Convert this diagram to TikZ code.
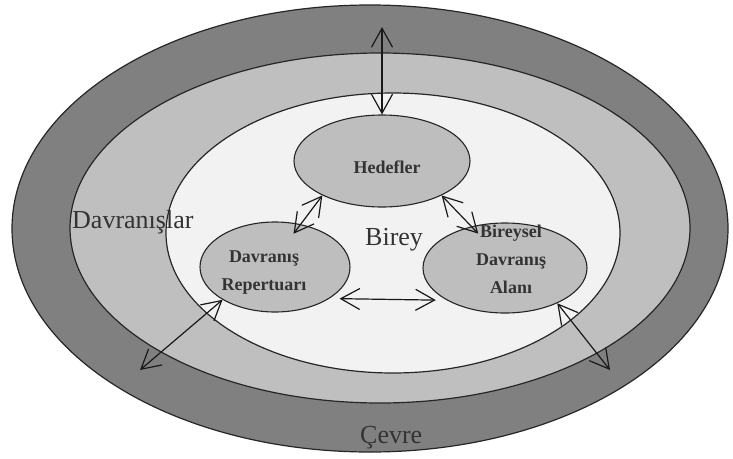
\documentclass[tikz,border=0pt]{standalone}
\usepackage{fontspec}
\setmainfont{Liberation Serif}
\usetikzlibrary{shapes.geometric,arrows.meta}
\definecolor{ringdark}{RGB}{128,128,128}
\definecolor{ringlight}{RGB}{191,191,191}
\definecolor{corewhite}{RGB}{242,242,242}
\definecolor{subfill}{RGB}{190,190,190}
\tikzset{
  zone/.style={ellipse, draw=black!85, line width=1.2pt, inner sep=0pt},
  subbox/.style={ellipse, draw=black!85, line width=1.1pt, fill=subfill, inner sep=0pt},
  bigtext/.style={font=\fontsize{26}{28}\selectfont, text=black!80, inner sep=0pt},
  smalltext/.style={font=\fontsize{18}{28}\selectfont\bfseries, text=black!80, inner sep=0pt, align=center},
  link/.style={line width=1.2pt, draw=black!90, {Straight Barb[length=19pt,width=21pt]}-{Straight Barb[length=19pt,width=21pt]}}
}
\begin{document}
\begin{tikzpicture}[x=1pt,y=-1pt]
\useasboundingbox (0,0) rectangle (733,458);
\fill[white] (0,0) rectangle (733,458);
% nested zones
\node[zone, fill=ringdark, minimum width=716pt, minimum height=447pt] (cevre) at (370,228.5) {};
\node[zone, fill=ringlight, minimum width=620pt, minimum height=350pt] (davr) at (380,228) {};
\node[zone, fill=corewhite, minimum width=454pt, minimum height=280pt] (birey) at (393,233) {};
% inner ellipses
\node[subbox, minimum width=176pt, minimum height=92pt] (hed) at (382,161) {};
\node[subbox, minimum width=150pt, minimum height=90pt] (rep) at (275,267) {};
\node[subbox, minimum width=164pt, minimum height=90pt] (bir) at (505,268) {};
% labels
\node[bigtext, anchor=base west] (tdavr) at (72,228) {Davranışlar};
\node[bigtext, anchor=base west] (tbirey) at (365,245) {Birey};
\node[bigtext, anchor=base west] (tcevre) at (360,443) {Çevre};
\node[smalltext, anchor=base] (thed) at (387,173) {Hedefler};
\node[smalltext, anchor=base] (trep) at (264,290) {Davranış\\Repertuarı};
\node[smalltext, anchor=base] (tbir) at (511,293) {Bireysel\\Davranış\\Alanı};
% free ends
\coordinate (topend) at (382,27);
\coordinate (leftend) at (140,370);
\coordinate (rightend) at (610,370);
% connectors
\draw[link] (topend) -- (hed.north);
\draw[link, shorten >=-12pt] (hed.210) -- (rep.59);
\draw[link, shorten >=-10pt] (hed.-30) -- (bir.129);
\draw[link, shorten <=10pt, shorten >=11pt] (rep.-30) -- (bir.209);
\draw[link] (rep.212) -- (leftend);
\draw[link] (bir.-34) -- (rightend);
\end{tikzpicture}
\end{document}
